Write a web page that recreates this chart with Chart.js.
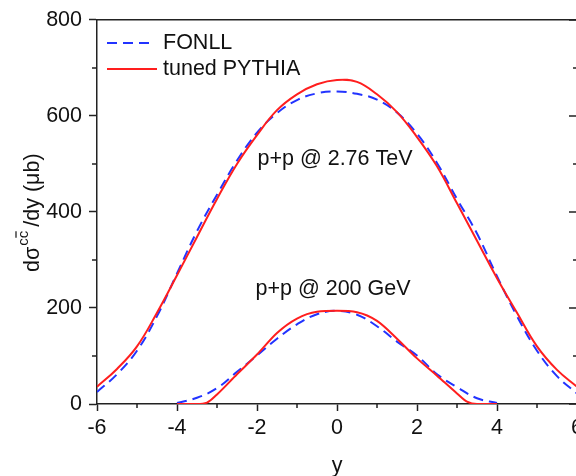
<!DOCTYPE html>
<html>
<head>
<meta charset="utf-8">
<script src="https://cdn.jsdelivr.net/npm/chart.js@4.4.1/dist/chart.umd.min.js"></script>
<style>
  html, body { margin: 0; padding: 0; background: #fff; width: 576px; height: 476px; overflow: hidden; }
  #wrap { width: 640px; height: 476px; }
</style>
</head>
<body>
<div id="wrap"><canvas id="chart" width="640" height="476"></canvas></div>
<script>
// rapidity grid and cross sections (ub)
const rapidity276 = [-6, -5.5, -5, -4.5, -4, -3.5, -3, -2.5, -2, -1.5, -1, -0.5, 0, 0.5, 1, 1.5, 2, 2.5, 3, 3.5, 4, 4.5, 5, 5.5, 6];
const fonll276 = [25, 62, 111, 183, 272, 360, 436, 507, 565, 606, 633, 647, 651, 646, 634, 607, 563, 502, 427, 355, 266, 183, 111, 58, 22];
const pythia276 = [36, 73, 120, 190, 268, 348, 427, 500, 560, 612, 645, 666, 675, 671, 645, 608, 556, 495, 418, 340, 262, 190, 120, 71, 36];

const rapidityFonll200 = [-4, -3.5, -3, -2.5, -2, -1.5, -1, -0.5, 0, 0.5, 1, 1.5, 2, 2.5, 3, 3.5, 4];
const fonll200 = [2, 13, 33, 67, 101, 136, 166, 187, 194, 186, 162, 130, 101, 62, 35, 12, 2];
const rapidityPythia200 = [-4, -3.5, -3.25, -3, -2.5, -2, -1.5, -1, -0.5, 0, 0.5, 1, 1.5, 2, 2.5, 3, 3.25, 3.5, 4];
const pythia200 = [0, 0, 3, 20, 62, 103, 148, 178, 192, 194, 191, 173, 136, 95, 59, 22, 5, 0, 0];

const xMinorTicks = [-5, -3, -1, 1, 3, 5];
const yMajorTicks = [0, 200, 400, 600, 800];
const yMinorTicks = [100, 300, 500, 700];

const annotations = [
  { text: 'p+p @ 2.76 TeV', x: -0.05, y: 511 },
  { text: 'p+p @ 200 GeV', x: -0.1, y: 239 },
];

const FONT = '"Liberation Sans", Arial, Helvetica, sans-serif';
const SIZE = 21.5;
const INK = '#111';
const AXIS = '#222';
const BLUE = '#2233ff';
const RED = '#ff1e1e';

const pts = (xs, ys) => xs.map((x, i) => ({ x, y: ys[i] }));

const fonllStyle = { borderColor: BLUE, borderWidth: 2, borderDash: [10, 6], pointRadius: 0, fill: false, tension: 0.4, order: 1 };
const pythiaStyle = { borderColor: RED, borderWidth: 2, pointRadius: 0, fill: false, tension: 0.4, order: 0 };

const datasets = [
  { label: 'FONLL', data: pts(rapidity276, fonll276), ...fonllStyle },
  { label: 'FONLL', data: pts(rapidityFonll200, fonll200), ...fonllStyle },
  { label: 'tuned PYTHIA', data: pts(rapidity276, pythia276), ...pythiaStyle },
  { label: 'tuned PYTHIA', data: pts(rapidityPythia200, pythia200), ...pythiaStyle, cubicInterpolationMode: 'monotone' },
];

// minor ticks, inward right-axis ticks, legend, labels in the plot
const decorations = {
  id: 'decorations',
  afterDraw(chart) {
    const { ctx, chartArea: a, scales: { x, y } } = chart;
    ctx.save();

    ctx.strokeStyle = AXIS;
    ctx.lineWidth = 1.5;
    ctx.beginPath();
    xMinorTicks.forEach(v => {
      const px = x.getPixelForValue(v);
      ctx.moveTo(px, a.bottom); ctx.lineTo(px, a.bottom + 4);
    });
    yMinorTicks.forEach(v => {
      const py = y.getPixelForValue(v);
      ctx.moveTo(a.left - 5, py); ctx.lineTo(a.left, py);
      ctx.moveTo(a.right - 4, py); ctx.lineTo(a.right, py);
    });
    yMajorTicks.forEach(v => {
      const py = y.getPixelForValue(v);
      ctx.moveTo(a.right - 8, py); ctx.lineTo(a.right, py);
    });
    ctx.stroke();

    // legend
    const seen = [];
    chart.data.datasets.forEach(ds => {
      if (seen.find(s => s.label === ds.label)) return;
      seen.push(ds);
    });
    ctx.font = SIZE + 'px ' + FONT;
    ctx.textBaseline = 'middle';
    ctx.textAlign = 'left';
    seen.forEach((ds, i) => {
      const ly = a.top + 23 + i * 26;
      ctx.strokeStyle = ds.borderColor;
      ctx.lineWidth = ds.borderWidth;
      ctx.setLineDash(ds.borderDash || []);
      ctx.beginPath();
      ctx.moveTo(a.left + 10, ly); ctx.lineTo(a.left + (ds.borderDash ? 55 : 60), ly);
      ctx.stroke();
      ctx.setLineDash([]);
      ctx.fillStyle = INK;
      ctx.fillText(ds.label, a.left + 66, ly);
    });

    // in-plot labels
    ctx.textAlign = 'center';
    annotations.forEach(t => {
      ctx.fillText(t.text, x.getPixelForValue(t.x), y.getPixelForValue(t.y));
    });

    // y-axis title with superscript c c-bar
    ctx.translate(39, 272);
    ctx.rotate(-Math.PI / 2);
    ctx.textAlign = 'left';
    ctx.textBaseline = 'alphabetic';
    ctx.font = SIZE + 'px ' + FONT;
    let cx = 0;
    ctx.fillText('d\u03c3', cx, 0);
    cx += ctx.measureText('d\u03c3').width + 1;
    ctx.font = '15px ' + FONT;
    const cw = ctx.measureText('c').width;
    ctx.fillText('cc', cx, -11);
    ctx.strokeStyle = INK;
    ctx.lineWidth = 1.2;
    ctx.beginPath();
    ctx.moveTo(cx + cw + 0.5, -23); ctx.lineTo(cx + 2 * cw - 0.5, -23);
    ctx.stroke();
    cx += 2 * cw + 4;
    ctx.font = SIZE + 'px ' + FONT;
    ctx.fillText('/dy (\u03bcb)', cx, 0);

    ctx.restore();
  }
};

new Chart(document.getElementById('chart'), {
  type: 'line',
  data: { datasets },
  plugins: [decorations],
  options: {
    responsive: false,
    animation: false,
    devicePixelRatio: 1,
    layout: { padding: { left: 0, right: 63, top: 17, bottom: 0 } },
    plugins: { legend: { display: false }, tooltip: { enabled: false } },
    scales: {
      x: {
        type: 'linear', position: 'bottom', min: -6, max: 6,
        ticks: { stepSize: 2, color: INK, font: { family: FONT, size: SIZE }, padding: 4, maxRotation: 0 },
        grid: { drawOnChartArea: false, tickLength: 7, tickColor: AXIS, tickWidth: 1.5 },
        border: { color: AXIS, width: 1.5 },
        title: { display: true, text: 'y', color: INK, font: { family: FONT, size: SIZE }, padding: { top: 0, bottom: -3 } },
        afterFit: s => { s.height = 72; }
      },
      x2: {
        type: 'linear', position: 'top', min: -6, max: 6,
        ticks: { display: false },
        grid: { display: false, drawTicks: false },
        border: { color: AXIS, width: 1.5 },
        afterFit: s => { s.height = 0; }
      },
      y: {
        type: 'linear', position: 'left', min: 0, max: 800,
        ticks: { stepSize: 200, color: INK, font: { family: FONT, size: SIZE }, padding: 7 },
        grid: { drawOnChartArea: false, tickLength: 8, tickColor: AXIS, tickWidth: 1.5 },
        border: { color: AXIS, width: 1.5 },
        afterFit: s => { s.width = 97; }
      },
      y2: {
        type: 'linear', position: 'right', min: 0, max: 800,
        ticks: { display: false },
        grid: { display: false, drawTicks: false },
        border: { color: AXIS, width: 1.5 },
        afterFit: s => { s.width = 0; }
      }
    }
  }
});
</script>
</body>
</html>
